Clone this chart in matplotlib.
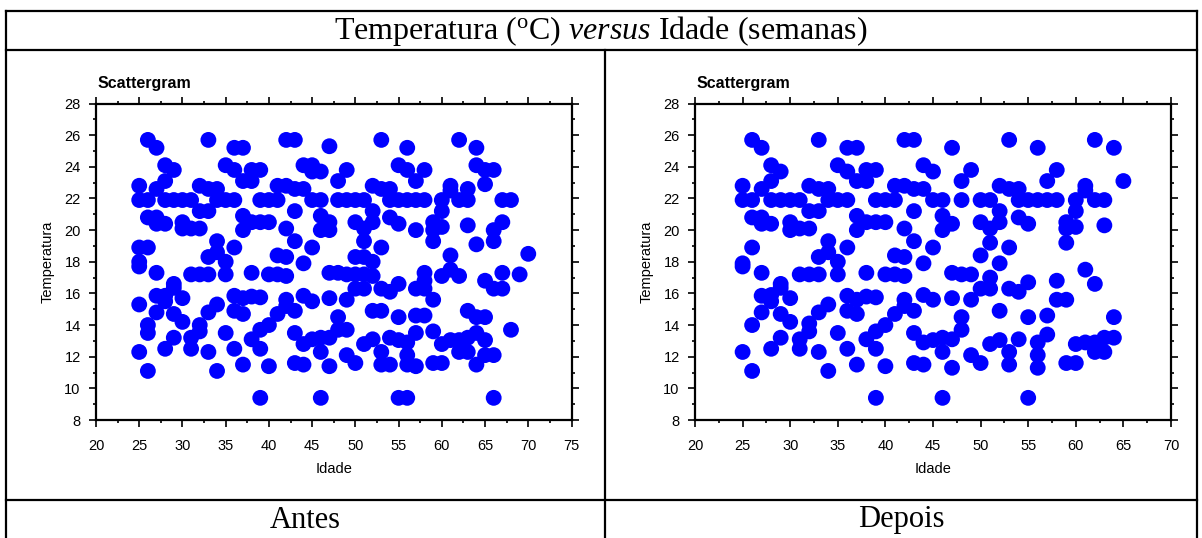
import matplotlib
matplotlib.use('Agg')
import matplotlib.pyplot as plt
from matplotlib.lines import Line2D
from matplotlib.ticker import MultipleLocator

plt.rcParams['font.family'] = ['Liberation Sans', 'DejaVu Sans']
plt.rcParams['mathtext.fontset'] = 'custom'
plt.rcParams['mathtext.rm'] = 'Liberation Serif'
plt.rcParams['mathtext.it'] = 'Liberation Serif:italic'

# Antes: idade (semanas) e temperatura (oC)
antes_idade = [
    26, 27, 33, 36, 37, 42, 43, 47, 53, 56, 62, 64,
    28, 35, 44, 45, 55, 64,
    29, 36, 38, 39, 45, 46, 49, 56, 58, 65, 66,
    28, 37, 38, 48, 57,
    25, 32, 41, 42, 52, 61, 65,
    27, 33, 34, 43, 44, 53, 54, 61, 63,
    25, 26, 28, 29, 30, 31, 34, 35, 36, 39, 40, 41, 45, 46,
    48, 49, 50, 51, 54, 55, 56, 57, 58, 60, 62, 63, 67, 68,
    32, 33, 43, 52, 60,
    26, 27, 37, 46, 54,
    27, 28, 30, 38, 39, 40, 47, 50, 52, 55, 59, 63, 67, 60,
    30, 31, 32, 37, 42, 46, 47, 51, 57, 59, 66,
    34, 43, 51, 59, 64, 66,
    25, 26, 36, 45, 53,
    34, 33, 41, 42, 50, 51, 61, 70,
    25, 35, 44, 52, 25,
    27, 31, 32, 33, 35, 38, 40, 41, 42, 47, 48,
    49, 50, 51, 52, 58, 60, 61, 62, 67, 69,
    29, 55, 58, 65,
    29, 50, 51, 53, 54, 57, 58, 66, 67,
    27, 28, 36, 44, 38, 39, 30, 37, 47, 42, 49, 59, 28, 45, 25, 34, 42,
    27, 33, 36, 43, 52, 53, 63, 29, 37, 41, 57, 58, 48, 55, 64, 65,
    30, 26, 32, 40,
    26, 32, 35, 39, 43, 48, 49, 57, 59, 64, 68,
    29, 31, 38, 45, 46, 47, 52, 54, 55, 61, 62, 63, 65,
    44, 51, 56, 60,
    28, 31, 36, 39, 25, 33, 46, 53, 62, 63, 49, 56, 65, 66,
    43, 50, 59, 60, 37, 44, 53, 54, 56, 64, 40, 47, 57, 26, 34,
    39, 46, 55, 56, 66,
]
antes_temp = [
    25.7, 25.2, 25.7, 25.2, 25.2, 25.7, 25.7, 25.3, 25.7, 25.2, 25.7, 25.2,
    24.1, 24.1, 24.1, 24.1, 24.1, 24.1,
    23.8, 23.8, 23.8, 23.8, 23.7, 23.7, 23.8, 23.8, 23.8, 23.8, 23.8,
    23.1, 23.1, 23.1, 23.1, 23.1,
    22.8, 22.8, 22.8, 22.8, 22.8, 22.8, 22.9,
    22.6, 22.6, 22.6, 22.6, 22.6, 22.6, 22.6, 22.5, 22.6,
    21.9, 21.9, 21.9, 21.9, 21.9, 21.9, 21.9, 21.9, 21.9, 21.9, 21.9, 21.9, 21.9, 21.9,
    21.9, 21.9, 21.9, 21.9, 21.9, 21.9, 21.9, 21.9, 21.9, 21.9, 21.9, 21.9, 21.9, 21.9,
    21.2, 21.2, 21.2, 21.2, 21.2,
    20.8, 20.8, 20.9, 20.9, 20.8,
    20.4, 20.4, 20.5, 20.5, 20.5, 20.5, 20.5, 20.5, 20.5, 20.4, 20.5, 20.3, 20.5, 20.2,
    20.1, 20.1, 20.1, 20.0, 20.1, 20.0, 20.0, 20.1, 20.0, 20.0, 20.0,
    19.3, 19.3, 19.3, 19.3, 19.1, 19.3,
    18.9, 18.9, 18.9, 18.9, 18.9,
    18.6, 18.3, 18.4, 18.3, 18.3, 18.3, 18.4, 18.5,
    18.0, 18.0, 17.9, 18.0, 17.7,
    17.3, 17.2, 17.2, 17.2, 17.2, 17.3, 17.2, 17.2, 17.1, 17.3, 17.3,
    17.2, 17.2, 17.2, 17.1, 17.3, 17.1, 17.5, 17.1, 17.3, 17.2,
    16.6, 16.6, 16.8, 16.8,
    16.35, 16.3, 16.3, 16.3, 16.1, 16.3, 16.3, 16.3, 16.3,
    15.85, 15.85, 15.85, 15.85, 15.8, 15.75, 15.7, 15.7, 15.7, 15.6, 15.6, 15.6, 15.5, 15.5, 15.3, 15.3, 15.2,
    14.8, 14.8, 14.9, 14.9, 14.9, 14.9, 14.9, 14.7, 14.7, 14.7, 14.6, 14.6, 14.5, 14.5, 14.5, 14.5,
    14.2, 14.0, 14.0, 14.0,
    13.5, 13.6, 13.5, 13.7, 13.5, 13.7, 13.7, 13.5, 13.6, 13.5, 13.7,
    13.2, 13.2, 13.1, 13.1, 13.2, 13.2, 13.1, 13.2, 13.05, 13.05, 13.05, 13.2, 13.05,
    12.8, 12.8, 12.9, 12.8,
    12.5, 12.5, 12.5, 12.5, 12.3, 12.3, 12.3, 12.3, 12.3, 12.3, 12.1, 12.1, 12.1, 12.1,
    11.6, 11.6, 11.6, 11.6, 11.5, 11.5, 11.5, 11.5, 11.5, 11.5, 11.4, 11.4, 11.4, 11.1, 11.1,
    9.4, 9.4, 9.4, 9.4, 9.4,
]

# Depois
depois_idade = [
    26, 27, 33, 36, 37, 42, 43, 47, 53, 56, 62, 64,
    28, 35, 44,
    29, 36, 38, 39, 45, 49, 58,
    28, 37, 38, 48, 57, 65,
    25, 32, 41, 42, 52, 61,
    27, 33, 34, 43, 44, 53, 54, 61,
    25, 26, 28, 29, 30, 31, 34, 35, 36, 39, 40, 41, 45,
    46, 48, 50, 51, 54, 55, 56, 57, 58, 60, 62, 63,
    32, 33, 43, 52, 60,
    26, 27, 37, 46, 54,
    27, 28, 30, 38, 39, 40, 47, 50, 52, 55, 59, 63, 60,
    30, 31, 32, 37, 42, 46, 51, 59,
    34, 43, 51, 59,
    26, 36, 45, 53,
    34, 33, 41, 42, 50,
    25, 35, 44, 52, 25,
    27, 31, 32, 33, 35, 38, 40, 41, 42, 47, 48, 49, 51, 61,
    29, 55, 58, 62,
    29, 50, 51, 53, 54,
    27, 28, 36, 44, 38, 39, 30, 37, 47, 42, 45, 49, 58, 59, 28, 34, 42,
    27, 33, 36, 43, 52, 29, 37, 41, 57, 48, 55, 64,
    30, 26, 32, 40,
    32, 35, 39, 43, 48, 57,
    29, 31, 38, 45, 46, 47, 52, 54, 63, 64,
    44, 51, 56, 60, 61, 62,
    28, 31, 36, 39, 25, 33, 46, 53, 62, 63, 49, 56,
    43, 50, 59, 60, 37, 44, 53, 40, 47, 56, 26, 34,
    39, 46, 55,
]
depois_temp = [
    25.7, 25.2, 25.7, 25.2, 25.2, 25.7, 25.7, 25.2, 25.7, 25.2, 25.7, 25.2,
    24.1, 24.1, 24.1,
    23.7, 23.7, 23.8, 23.8, 23.7, 23.8, 23.8,
    23.1, 23.1, 23.1, 23.1, 23.1, 23.1,
    22.8, 22.8, 22.8, 22.8, 22.8, 22.8,
    22.6, 22.6, 22.6, 22.6, 22.6, 22.6, 22.6, 22.5,
    21.9, 21.9, 21.9, 21.9, 21.9, 21.9, 21.9, 21.9, 21.9, 21.9, 21.9, 21.9, 21.9,
    21.9, 21.9, 21.9, 21.9, 21.9, 21.9, 21.9, 21.9, 21.9, 21.9, 21.9, 21.9,
    21.2, 21.2, 21.2, 21.2, 21.2,
    20.8, 20.8, 20.9, 20.9, 20.8,
    20.4, 20.4, 20.5, 20.5, 20.5, 20.5, 20.4, 20.5, 20.5, 20.4, 20.5, 20.3, 20.2,
    20.0, 20.1, 20.1, 20.0, 20.1, 20.0, 20.1, 20.1,
    19.3, 19.3, 19.2, 19.2,
    18.9, 18.9, 18.9, 18.9,
    18.6, 18.3, 18.4, 18.3, 18.4,
    17.9, 18.0, 17.9, 17.9, 17.7,
    17.3, 17.2, 17.2, 17.2, 17.2, 17.3, 17.2, 17.2, 17.1, 17.3, 17.2, 17.2, 17.0, 17.5,
    16.6, 16.7, 16.8, 16.6,
    16.35, 16.3, 16.3, 16.3, 16.1,
    15.85, 15.9, 15.85, 15.9, 15.8, 15.75, 15.7, 15.6, 15.7, 15.6, 15.6, 15.6, 15.6, 15.6, 15.5, 15.3, 15.2,
    14.8, 14.8, 14.9, 14.9, 14.9, 14.7, 14.7, 14.7, 14.6, 14.5, 14.5, 14.5,
    14.2, 14.0, 14.1, 14.0,
    13.6, 13.5, 13.6, 13.5, 13.7, 13.4,
    13.2, 13.1, 13.1, 13.05, 13.2, 13.1, 13.05, 13.1, 13.2, 13.2,
    12.9, 12.8, 12.9, 12.8, 12.9, 12.9,
    12.5, 12.5, 12.5, 12.5, 12.3, 12.3, 12.3, 12.3, 12.3, 12.3, 12.1, 12.1,
    11.6, 11.6, 11.6, 11.6, 11.5, 11.5, 11.5, 11.4, 11.3, 11.3, 11.1, 11.1,
    9.4, 9.4, 9.4,
]

assert len(antes_idade) == len(antes_temp)
assert len(depois_idade) == len(depois_temp)

W, H = 1202, 538
fig = plt.figure(figsize=(W / 100, H / 100), dpi=100)


def fig_line(x0, y0, x1, y1):
    # coordinates in pixels from the top-left corner
    fig.add_artist(Line2D([x0 / W, x1 / W], [1 - y0 / H, 1 - y1 / H],
                          transform=fig.transFigure, color='black', lw=1.6))


# table frame
fig_line(6, 11, 1197, 11)
fig_line(6, 11, 6, 538)
fig_line(1197, 11, 1197, 538)
fig_line(6, 49.5, 1197, 49.5)
fig_line(6, 500, 1197, 500)
fig_line(605, 49.5, 605, 538)

fig.text(601 / W, 1 - 31 / H,
         r'Temperatura ($^{\mathrm{o}}$C) $\mathit{versus}$ Idade (semanas)',
         ha='center', va='center', fontsize=23, family='Liberation Serif')
fig.text(305 / W, 1 - 520 / H, 'Antes', ha='center', va='center',
         fontsize=22, family='Liberation Serif')
fig.text(901 / W, 1 - 520 / H, 'Depois', ha='center', va='center',
         fontsize=22, family='Liberation Serif')


def painel(rect, idade, temp, xmax):
    ax = fig.add_axes(rect)
    ax.scatter(idade, temp, s=130, color='#0000FF', edgecolors='none', zorder=3)
    ax.set_xlim(20, xmax)
    ax.set_ylim(8, 28)
    ax.set_xticks(range(20, xmax + 1, 5))
    ax.set_yticks(range(8, 29, 2))
    ax.xaxis.set_minor_locator(MultipleLocator(2.5))
    ax.yaxis.set_minor_locator(MultipleLocator(1))
    ax.tick_params(which='both', direction='out', top=True, right=True,
                   width=1.2, labelsize=10.5)
    ax.tick_params(axis='x', pad=9)
    ax.tick_params(axis='y', pad=6)
    ax.tick_params(which='major', length=5)
    ax.tick_params(which='minor', length=2.5)
    for s in ax.spines.values():
        s.set_linewidth(1.6)
    ax.set_xlabel('Idade', fontsize=10.5, labelpad=6)
    ax.set_ylabel('Temperatura', fontsize=10.5, labelpad=7)
    ax.text(0.004, 1.049, 'Scattergram', transform=ax.transAxes,
            fontsize=11.5, fontweight='bold', va='baseline')
    return ax


painel([96 / W, 118 / H, 475.5 / W, 316.5 / H], antes_idade, antes_temp, 75)
painel([695 / W, 118 / H, 476 / W, 316.5 / H], depois_idade, depois_temp, 70)

fig.savefig('out.png', dpi=100)
